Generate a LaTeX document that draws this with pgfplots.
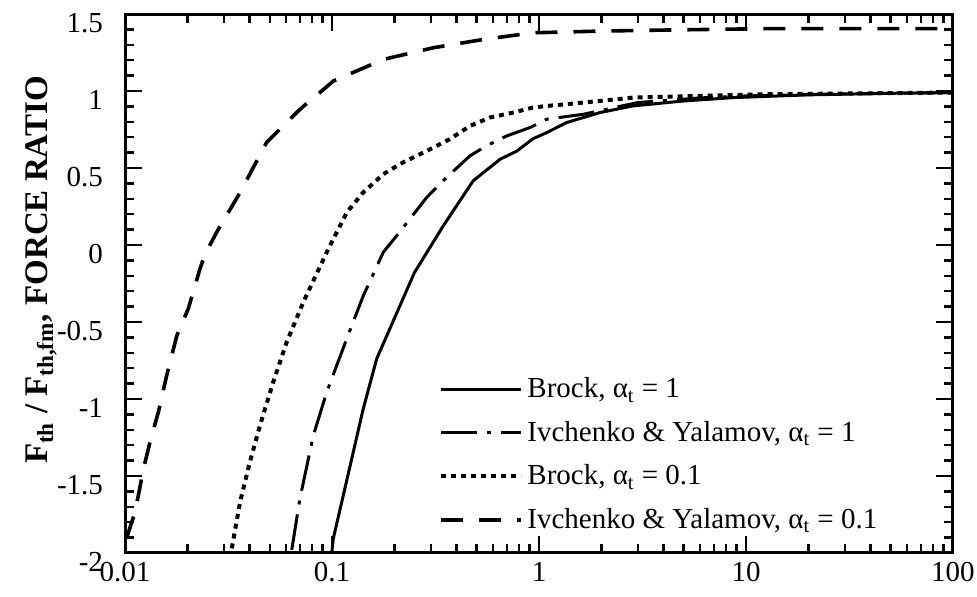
\documentclass[border=0pt]{standalone}
\usepackage{pgfplots}
\pgfplotsset{compat=1.18}
\usepackage{fontspec}
\setmainfont{Liberation Serif}

% Brock, alpha_t = 1
\pgfplotstableread{
x y
0.0997 -2.00
0.1015 -1.905
0.1134 -1.625
0.1416 -1.063
0.1644 -0.739
0.2131 -0.393
0.2500 -0.180
0.2975 -0.015
0.345 0.125
0.481 0.417
0.649 0.557
0.784 0.611
0.935 0.690
1.09 0.730
1.36 0.795
1.97 0.860
2.84 0.903
4.97 0.935
8.65 0.957
20 0.975
50 0.985
100 0.990
}\brockA

% Ivchenko & Yalamov, alpha_t = 1
\pgfplotstableread{
x y
0.0639 -1.98
0.0700 -1.646
0.0813 -1.236
0.0943 -0.955
0.1178 -0.609
0.1417 -0.329
0.1769 -0.047
0.2053 0.060
0.2868 0.309
0.358 0.439
0.464 0.579
0.557 0.644
0.698 0.708
0.906 0.763
1.09 0.817
1.64 0.849
3.0 0.925
6.0 0.955
10 0.968
30 0.982
100 0.990
}\ivchA

% Brock, alpha_t = 0.1
\pgfplotstableread{
x y
0.0328 -1.97
0.0360 -1.667
0.0401 -1.41
0.0449 -1.171
0.0520 -0.890
0.0604 -0.631
0.0727 -0.371
0.0943 -0.047
0.1016 0.040
0.118 0.212
0.1417 0.342
0.177 0.460
0.220 0.536
0.287 0.611
0.370 0.687
0.464 0.773
0.580 0.828
0.750 0.860
0.935 0.892
1.09 0.903
1.36 0.914
2.84 0.957
5.96 0.968
12.6 0.979
100 0.990
}\brockB

% Ivchenko & Yalamov, alpha_t = 0.1
\pgfplotstableread{
x y
0.0102 -1.90
0.0112 -1.73
0.0123 -1.45
0.0132 -1.28
0.0145 -1.084
0.0159 -0.847
0.0178 -0.588
0.0202 -0.415
0.0230 -0.156
0.0244 -0.058
0.0277 0.082
0.0360 0.342
0.0483 0.666
0.0700 0.881
0.1016 1.065
0.177 1.205
0.309 1.281
0.540 1.335
0.935 1.378
1.97 1.389
4.14 1.396
12.6 1.405
38.2 1.405
100 1.405
}\ivchB

\begin{document}
\begin{tikzpicture}
\begin{axis}[
  scale only axis,
  width=414pt, height=269.5pt,
  xmode=log,
  xmin=0.01, xmax=100,
  ymin=-2, ymax=1.5,
  xtick={0.01,0.1,1,10,100},
  xticklabels={0.01,0.1,1,10,100},
  ytick={-2,-1.5,-1,-0.5,0,0.5,1,1.5},
  yticklabels={-2,-1.5,-1,-0.5,0,0.5,1,1.5},
  minor y tick num=4,
  tick align=inside,
  xtick pos=both, ytick pos=both,
  major tick length=8.5pt,
  minor tick length=4.5pt,
  every tick/.style={black, line width=1.2pt},
  axis line style={line width=1.5pt},
  font=\fontsize{14.5}{17}\selectfont,
  yticklabel style={yshift=-4.5pt, xshift=-7.5pt},
  xticklabel style={yshift=-1pt, inner xsep=0pt},
  ylabel={\textbf{F\textsubscript{th} / F\textsubscript{th,fm}, FORCE RATIO}},
  every axis y label/.style={at={(rel axis cs:-0.101,0.525)}, rotate=90, anchor=center,
    font=\fontsize{16.5}{19}\selectfont},
  clip=false,
  legend style={draw=none, fill=none, at={(rel axis cs:0.372,0.341)}, anchor=north west,
    row sep=6.2pt, font=\fontsize{14.5}{17}\selectfont, cells={anchor=west}},
  legend image code/.code={\draw[#1] (0pt,0pt) -- (40pt,0pt);},
]
\path (rel axis cs:-0.151,-0.0816) rectangle (rel axis cs:1.029,1.026);
\addplot[black, line width=1.5pt] table[x=x,y=y] {\brockA};
\addlegendentry{Brock, α\textsubscript{t} = 1}
\addplot[black, line width=1.5pt, dash pattern=on 18pt off 5pt on 2pt off 5pt] table[x=x,y=y] {\ivchA};
\addlegendentry{Ivchenko \& Yalamov, α\textsubscript{t} = 1}
\addplot[black, line width=2pt, dash pattern=on 2.5pt off 2.5pt] table[x=x,y=y] {\brockB};
\addlegendentry{Brock, α\textsubscript{t} = 0.1}
\addplot[black, line width=1.8pt, dash pattern=on 11pt off 8pt] table[x=x,y=y] {\ivchB};
\addlegendentry{Ivchenko \& Yalamov, α\textsubscript{t} = 0.1}
\end{axis}
\end{tikzpicture}
\end{document}
